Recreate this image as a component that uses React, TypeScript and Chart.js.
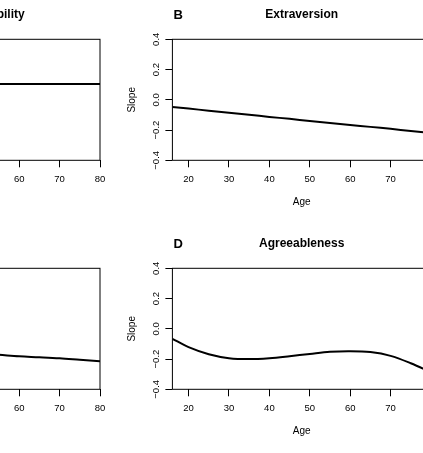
import { useEffect, useRef } from "react";
import { Chart, registerables } from "chart.js";

Chart.register(...registerables);

// Age grid shared by every panel
const ages = [16, 20, 25, 30, 35, 40, 45, 50, 55, 60, 65, 70, 75, 80];

// Slope of each trait over age
const emotionalStability = [0.105, 0.105, 0.105, 0.105, 0.105, 0.105, 0.105, 0.105, 0.105, 0.105, 0.105, 0.105, 0.105, 0.105];
const extraversion = [-0.048, -0.058, -0.072, -0.085, -0.099, -0.113, -0.126, -0.14, -0.153, -0.166, -0.179, -0.192, -0.206, -0.22];
const openness = [-0.02, -0.05, -0.083, -0.11, -0.13, -0.145, -0.155, -0.163, -0.172, -0.182, -0.188, -0.195, -0.205, -0.215];
const agreeableness = [-0.066, -0.121, -0.168, -0.194, -0.2, -0.194, -0.181, -0.166, -0.152, -0.148, -0.154, -0.179, -0.228, -0.288];

const panelLetters = ["A", "B", "C", "D"];
const panelTitles = ["Emotional Stability", "Extraversion", "Openness", "Agreeableness"];

// Axis ticks
const ageTicks = [20, 30, 40, 50, 60, 70, 80];
const slopeTicks = [-0.4, -0.2, 0, 0.2, 0.4];

const FONT = "'Liberation Sans', Arial, Helvetica, sans-serif";

const fmtSlope = (v: number) => {
  const n = Number(v);
  return n < -1e-9 ? "\u2212" + Math.abs(n).toFixed(1) : Math.abs(n).toFixed(1);
};

// Draws the full box around the plot region and the panel letter
const framePlugin = {
  id: "panelFrame",
  afterDatasetsDraw(chart: any) {
    const { ctx, chartArea } = chart;
    ctx.save();
    ctx.strokeStyle = "#000";
    ctx.lineWidth = 1;
    ctx.strokeRect(chartArea.left, chartArea.top, chartArea.right - chartArea.left, chartArea.bottom - chartArea.top);
    ctx.restore();
  },
  afterDraw(chart: any, _args: any, opts: any) {
    const { ctx, chartArea } = chart;
    ctx.save();
    ctx.fillStyle = "#000";
    ctx.font = `bold 13px ${FONT}`;
    ctx.textAlign = "left";
    ctx.textBaseline = "middle";
    ctx.fillText(opts.letter, chartArea.left + 1, 15);
    ctx.restore();
  },
};

type PanelProps = { letter: string; title: string; values: number[]; left: number; top: number };

function Panel({ letter, title, values, left, top }: PanelProps) {
  const ref = useRef<HTMLCanvasElement>(null);

  useEffect(() => {
    const chart = new Chart(ref.current!, {
      type: "line",
      data: {
        datasets: [
          {
            data: ages.map((a, i) => ({ x: a, y: values[i] })),
            borderColor: "#000",
            borderWidth: 2,
            pointRadius: 0,
            tension: 0.35,
            fill: false,
          },
        ],
      },
      options: {
        responsive: false,
        animation: false,
        events: [],
        layout: { padding: { left: 0, top: 0, right: 19, bottom: 0 } },
        plugins: {
          legend: { display: false },
          tooltip: { enabled: false },
          title: {
            display: true,
            text: title,
            fullSize: false,
            color: "#000",
            font: { family: FONT, size: 12, weight: "bold" },
            padding: { top: 7.8, bottom: 17.1 },
          },
          panelFrame: { letter },
        } as any,
        scales: {
          x: {
            type: "linear",
            min: 16,
            max: 80,
            afterBuildTicks: (s: any) => {
              s.ticks = ageTicks.map((v) => ({ value: v }));
            },
            afterFit: (s: any) => {
              s.height = 59.7;
            },
            border: { display: false },
            grid: { display: true, drawOnChartArea: false, drawTicks: true, tickLength: 7, color: "#000", lineWidth: 1 },
            ticks: {
              color: "#000",
              font: { family: FONT, size: 9.5 },
              padding: 6.6,
              maxRotation: 0,
              minRotation: 0,
              autoSkip: false,
            },
            title: {
              display: true,
              text: "Age",
              color: "#000",
              font: { family: FONT, size: 10 },
              padding: { top: 0, bottom: 12 },
            },
          },
          y: {
            type: "linear",
            min: -0.4,
            max: 0.4,
            afterBuildTicks: (s: any) => {
              s.ticks = slopeTicks.map((v) => ({ value: v }));
            },
            afterFit: (s: any) => {
              s.width = 62.4;
            },
            border: { display: false },
            grid: { display: true, drawOnChartArea: false, drawTicks: true, tickLength: 7, color: "#000", lineWidth: 1 },
            ticks: {
              color: "#000",
              font: { family: FONT, size: 9.5 },
              padding: 0,
              minRotation: 90,
              maxRotation: 90,
              crossAlign: "center",
              autoSkip: false,
              callback: (v: any) => fmtSlope(v),
            },
            title: {
              display: true,
              text: "Slope",
              color: "#000",
              font: { family: FONT, size: 10 },
              padding: { top: 16.3, bottom: 0 },
            },
          },
        },
      } as any,
      plugins: [framePlugin],
    });
    return () => chart.destroy();
  }, [letter, title, values]);

  return (
    <canvas
      ref={ref}
      width={340}
      height={220}
      style={{ position: "absolute", left, top, width: 340, height: 220 }}
    />
  );
}

export default function App() {
  const seriesList = [emotionalStability, extraversion, openness, agreeableness];
  const lefts = [-221, 110, -221, 110];
  const tops = [0, 0, 229, 229];
  return (
    <div
      style={{
        position: "fixed",
        left: 0,
        top: 0,
        width: 423,
        height: 453,
        overflow: "hidden",
        background: "#fff",
      }}
    >
      {seriesList.map((vals, i) => (
        <Panel
          key={panelLetters[i]}
          letter={panelLetters[i]}
          title={panelTitles[i]}
          values={vals}
          left={lefts[i]}
          top={tops[i]}
        />
      ))}
    </div>
  );
}
